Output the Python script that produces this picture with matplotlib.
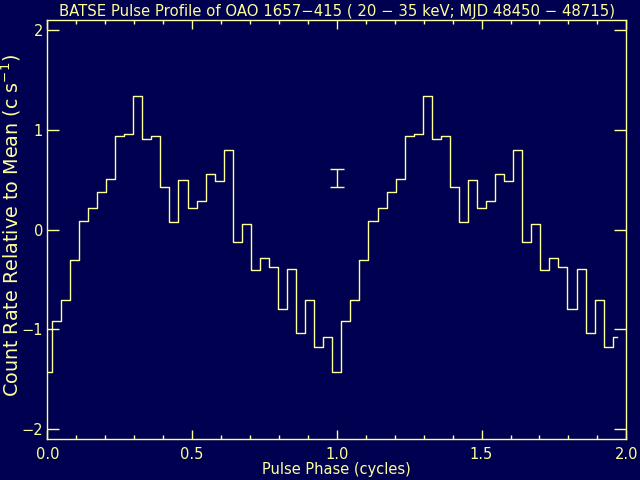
import numpy as np
import matplotlib
matplotlib.use("Agg")
import matplotlib.pyplot as plt
from matplotlib.ticker import MultipleLocator

# Folded pulse profile: 32 phase bins (count rate relative to mean, c/s)
profile = [-1.43, -0.92, -0.71, -0.31, 0.09, 0.22, 0.38, 0.51,
           0.94, 0.96, 1.34, 0.91, 0.94, 0.43, 0.08, 0.50,
           0.22, 0.29, 0.56, 0.49, 0.80, -0.13, 0.06, -0.41,
           -0.29, -0.38, -0.80, -0.40, -1.04, -0.71, -1.18, -1.08]
n_cycles = 2
err_phase = 1.0
err_value = 0.52
err_size = 0.09

title = "BATSE Pulse Profile of OAO 1657\u2212415 ( 20 \u2212 35 keV; MJD 48450 \u2212 48715)"
xlabel = "Pulse Phase (cycles)"
ylabel = "Count Rate Relative to Mean (c s$^{-1}$)"

bg = "#000050"
fg = "#FFFF9A"

nb = len(profile)
phase = np.arange(nb * n_cycles) / nb
values = np.tile(profile, n_cycles)

fig = plt.figure(figsize=(6.4, 4.8), dpi=100, facecolor=bg)
ax = fig.add_axes([0.0739, 0.0854, 0.9047, 0.8729], facecolor=bg)

ax.step(phase, values, where="mid", color=fg, lw=1.0)
ax.errorbar([err_phase], [err_value], yerr=[err_size], color=fg, lw=1.0,
            capsize=5, capthick=1.0, fmt="none")

ax.set_xlim(0, 2.0)
ax.set_ylim(-2.1, 2.1)
ax.xaxis.set_major_locator(MultipleLocator(0.5))
ax.xaxis.set_minor_locator(MultipleLocator(0.1))
ax.yaxis.set_major_locator(MultipleLocator(1))
ax.xaxis.set_major_formatter(matplotlib.ticker.FormatStrFormatter("%.1f"))
ax.yaxis.set_major_formatter(matplotlib.ticker.FuncFormatter(
    lambda v, p: ("\u2212%d" % abs(round(v))) if v < 0 else "%d" % round(v)))

for s in ax.spines.values():
    s.set_color(fg)
    s.set_linewidth(1.0)
ax.tick_params(which="both", direction="in", top=True, right=True,
               colors=fg, labelcolor=fg, labelsize=10.5, width=1.0)
ax.tick_params(axis="x", which="major", length=6.5, pad=6)
ax.tick_params(axis="x", which="minor", length=3)
ax.tick_params(axis="y", which="major", length=8.5, pad=3)

ax.set_title(title, color=fg, fontsize=10.7, pad=3)
ax.set_xlabel(xlabel, color=fg, fontsize=10.5, labelpad=0)
fig.text(11 / 640, 0.530, ylabel, color=fg, fontsize=13.8, rotation=90,
         ha="center", va="center")

fig.savefig("out.png", dpi=100, facecolor=bg)
